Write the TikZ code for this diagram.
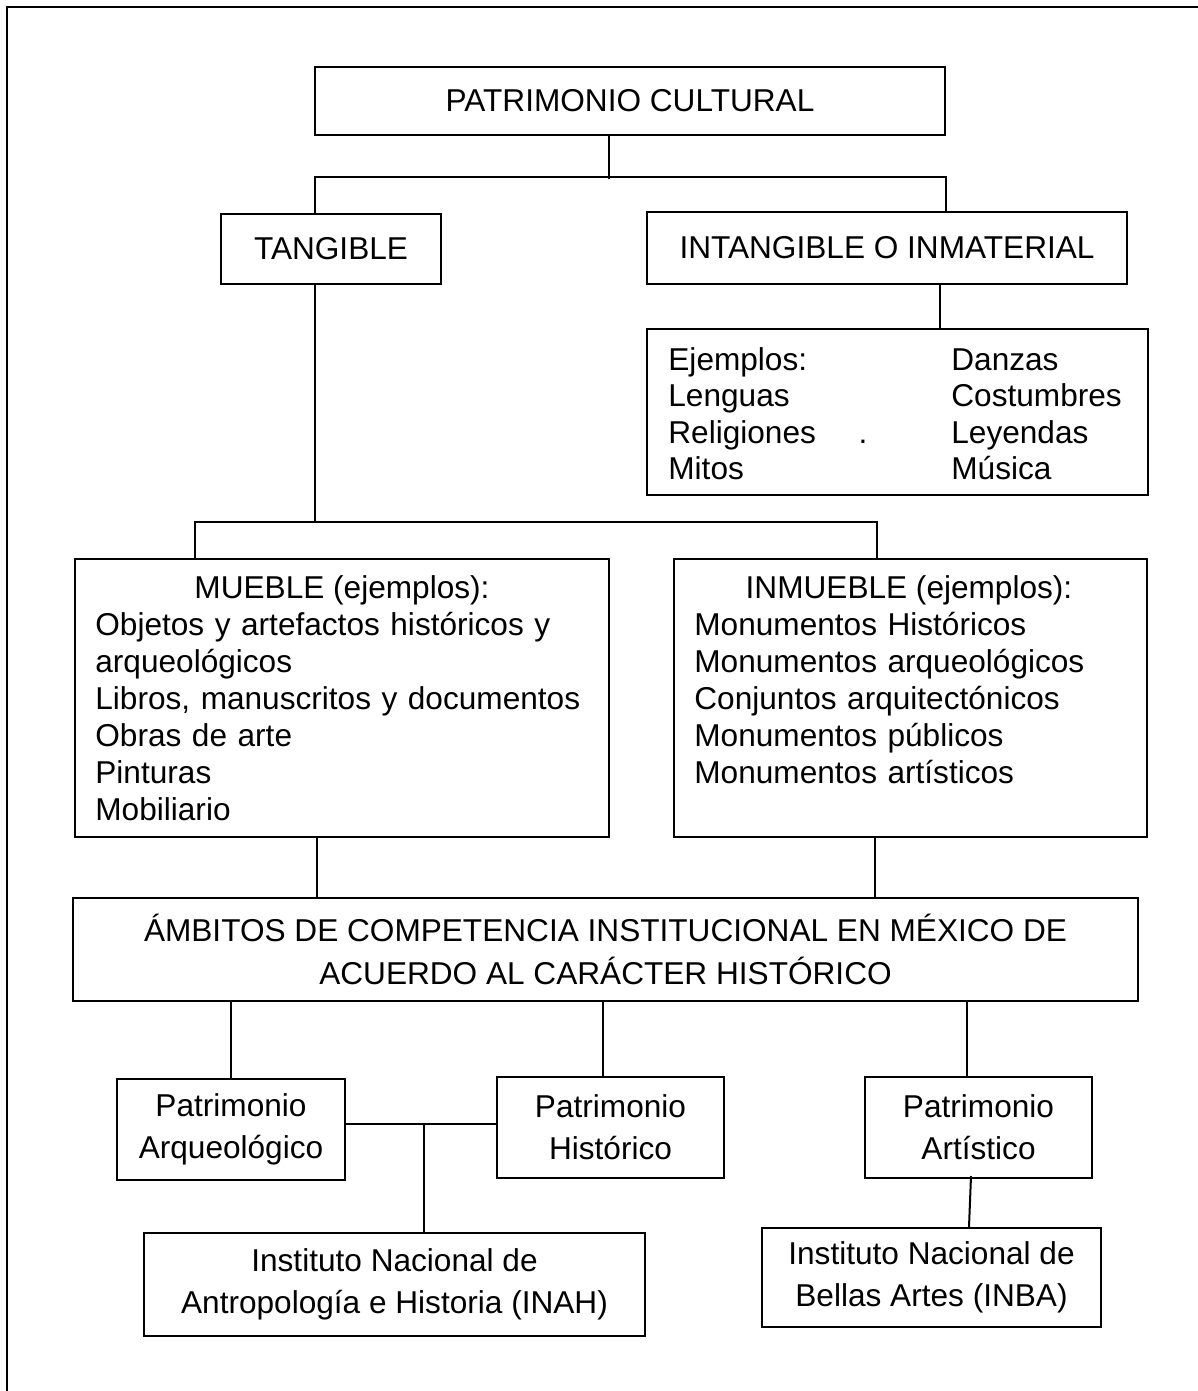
\documentclass[tikz,border=0pt]{standalone}
\usepackage{fontspec}
\setmainfont{Liberation Sans}
\usetikzlibrary{calc}
\begin{document}
\begin{tikzpicture}[x=0.5pt,y=-0.5pt,
  box/.style={draw,line width=1pt,inner sep=0pt,align=center,font=\fontsize{15.8}{21}\selectfont},
  conn/.style={line width=1pt},
  txt/.style={inner sep=0pt,font=\fontsize{15.8}{18.5}\selectfont},
  lst/.style={txt,align=left,text width=300pt,anchor=base west}]
\useasboundingbox (0,0) rectangle (1198,1391);
\fill[white] (0,0) rectangle (1198,1391);
\draw[line width=1pt] (7,7) rectangle (1230,1430);

% boxes
\node[box,minimum width=315pt,minimum height=34pt] (pc) at (630,101) {PATRIMONIO CULTURAL};
\node[box,minimum width=110pt,minimum height=35pt] (tang) at (331,249) {TANGIBLE};
\node[box,minimum width=240pt,minimum height=36pt] (intang) at (887,248) {INTANGIBLE O INMATERIAL};
\node[box,minimum width=250.5pt,minimum height=83pt] (ej) at (897.5,412) {};
\node[box,minimum width=267pt,minimum height=139pt] (mueble) at (342,698) {};
\node[box,minimum width=236.5pt,minimum height=139pt] (inmueble) at (910.5,698) {};
\node[box,minimum width=532.5pt,minimum height=51.5pt,font=\fontsize{15.8}{21.5}\selectfont] (amb) at (605.5,949.5) {ÁMBITOS DE COMPETENCIA INSTITUCIONAL EN MÉXICO DE\\ACUERDO AL CARÁCTER HISTÓRICO};
\node[box,minimum width=114pt,minimum height=50.5pt] (arq) at (231,1129.5) {Patrimonio\\Arqueológico};
\node[box,minimum width=113.5pt,minimum height=50.5pt] (hist) at (610.5,1127.5) {Patrimonio\\Histórico};
\node[box,minimum width=113.5pt,minimum height=50.5pt] (art) at (978.5,1127.5) {Patrimonio\\Artístico};
\node[box,minimum width=250.5pt,minimum height=51.5pt] (inah) at (394.5,1284.5) {Instituto Nacional de\\Antropología e Historia (INAH)};
\node[box,minimum width=169.5pt,minimum height=49.5pt] (inba) at (931.5,1277.5) {Instituto Nacional de\\Bellas Artes (INBA)};

% texts inside list boxes
\node[lst,font=\fontsize{15.8}{18.3}\selectfont] (ejl) at (668,370) {Ejemplos:\\Lenguas\\Religiones\\Mitos};
\node[lst,font=\fontsize{15.8}{18.3}\selectfont] (ejr) at (951,370) {Danzas\\Costumbres\\Leyendas\\Música};
\node[txt,anchor=base] (ejdot) at (863,443) {.};
\node[txt,anchor=base] (mh) at (342,598) {MUEBLE (ejemplos):};
\node[lst] (ml) at (95,635) {Objetos y artefactos históricos y\\arqueológicos\\Libros, manuscritos y documentos\\Obras de arte\\Pinturas\\Mobiliario};
\node[txt,anchor=base] (ih) at (909,598) {INMUEBLE (ejemplos):};
\node[lst] (il) at (694,635) {Monumentos Históricos\\Monumentos arqueológicos\\Conjuntos arquitectónicos\\Monumentos públicos\\Monumentos artísticos};

% junction coordinates
\coordinate (j1) at (609,179);
\coordinate (b1l) at (315,177);
\coordinate (b1r) at (946,177);
\coordinate (j2) at (315,522);
\coordinate (b2l) at (195,522);
\coordinate (b2r) at (877,522);
\coordinate (h) at (424,1124);

% connectors
\draw[conn] (j1 |- pc.south) -- (j1);
\draw[conn] (tang.north -| b1l) -- (b1l) -- (b1r) -- (intang.north -| b1r);
\draw[conn] (tang.south -| j2) -- (j2);
\draw[conn] (mueble.north -| b2l) -- (b2l) -- (b2r) -- (inmueble.north -| b2r);
\draw[conn] ($(intang.south)+(53,0)$) -- ($(ej.north)+(42.5,0)$);
\draw[conn] ($(mueble.south)+(-25,0)$) -- ($(amb.north -| mueble.south)+(-25,0)$);
\draw[conn] ($(inmueble.south)+(-35.5,0)$) -- ($(amb.north -| inmueble.south)+(-35.5,0)$);
\draw[conn] (amb.south -| arq.north) -- (arq.north);
\draw[conn] ($(amb.south -| hist.north)+(-7.5,0)$) -- ($(hist.north)+(-7.5,0)$);
\draw[conn] ($(amb.south -| art.north)+(-11.5,0)$) -- ($(art.north)+(-11.5,0)$);
\draw[conn] (arq.east |- h) -- (hist.west |- h);
\draw[conn] (h) -- (inah.north -| h);
\draw[conn] ($(art.south)+(-7.5,-3)$) -- ($(inba.north)+(37.5,0)$);
\end{tikzpicture}
\end{document}
